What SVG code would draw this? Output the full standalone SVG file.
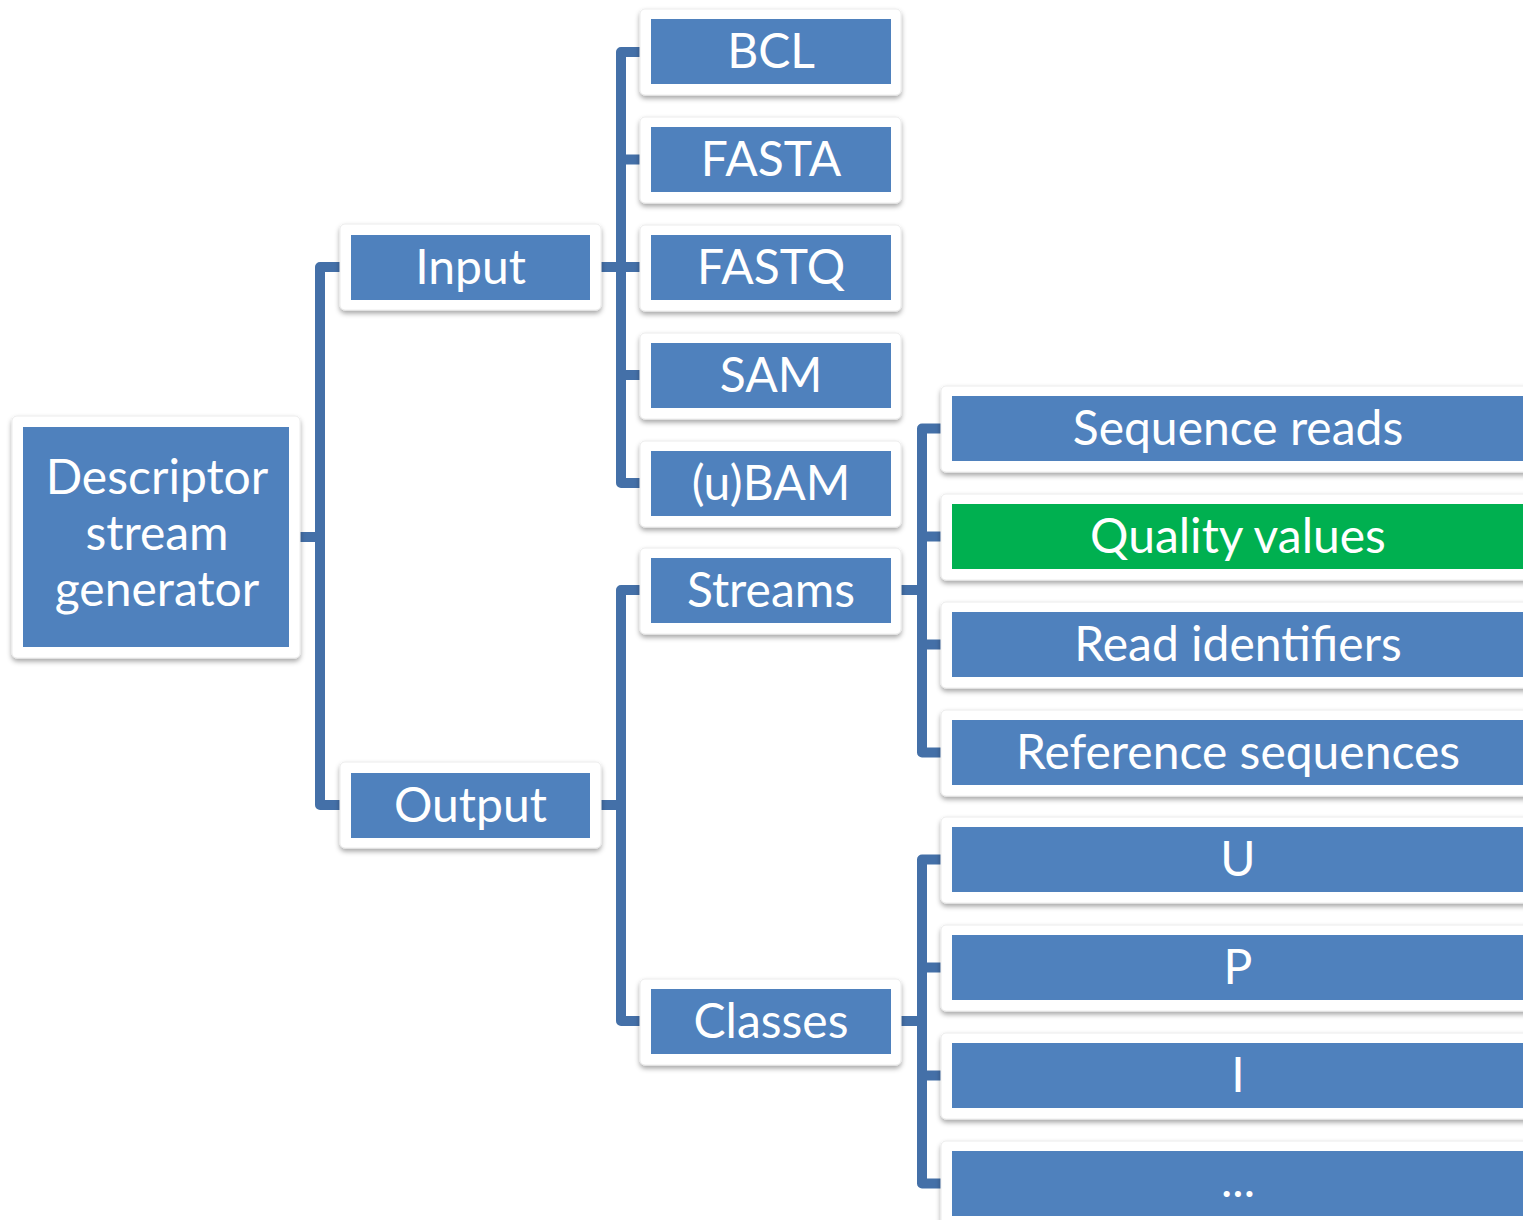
<svg xmlns="http://www.w3.org/2000/svg" width="1523" height="1220" viewBox="0 0 1523 1220">
<style>
.frame{fill:#fff;stroke:#ececec;stroke-width:1;filter:url(#sh)}
.box{fill:#4F81BD}
.green{fill:#00B050}
.lbl{font-family:Lato,"Liberation Sans",sans-serif;font-size:48px;fill:#fff;text-anchor:middle}
.con{fill:none;stroke:#4470A8;stroke-width:10;stroke-linejoin:round}
</style>
<defs>
<filter id="sh" x="-10%" y="-20%" width="120%" height="150%">
<feDropShadow dx="0" dy="3" stdDeviation="2.5" flood-color="#000" flood-opacity="0.35"/>
</filter>
</defs>
<rect width="1523" height="1220" fill="#fff"/>
<g id="connectors">
<path class="con" d="M345 267 H320 V805 H345 M296 537 H320"/>
<path class="con" d="M646 52 H621 V483 H646 M621 159.5 H646 M596 267 H646 M621 375 H646"/>
<path class="con" d="M646 590 H621 V1021 H646 M596 805 H621"/>
<path class="con" d="M946 428.5 H922 V752.5 H946 M922 536.5 H946 M922 644.5 H946 M896 590 H922"/>
<path class="con" d="M946 859.5 H922 V1183.5 H946 M922 967.5 H946 M922 1075.5 H946 M896 1021 H922"/>
</g>
<g id="descriptor">
<rect class="frame" x="12" y="416" width="288" height="242" rx="5"/>
<rect class="box" x="23" y="427" width="266" height="220"/>
<text class="lbl" x="157" y="494">Descriptor</text>
<text class="lbl" x="157" y="550">stream</text>
<text class="lbl" x="157" y="606">generator</text>
</g>
<g id="input">
<rect class="frame" x="340" y="224" width="261" height="86" rx="5"/>
<rect class="box" x="351" y="235" width="239" height="65"/>
<text class="lbl" x="470.5" y="284">Input</text>
</g>
<g id="output">
<rect class="frame" x="340" y="762" width="261" height="86" rx="5"/>
<rect class="box" x="351" y="773" width="239" height="65"/>
<text class="lbl" x="470.5" y="822">Output</text>
</g>
<g id="bcl">
<rect class="frame" x="640" y="9" width="261" height="86" rx="5"/>
<rect class="box" x="651" y="19" width="240" height="65"/>
<text class="lbl" x="771" y="68">BCL</text>
</g>
<g id="fasta">
<rect class="frame" x="640" y="117" width="261" height="86" rx="5"/>
<rect class="box" x="651" y="127" width="240" height="65"/>
<text class="lbl" x="771" y="176">FASTA</text>
</g>
<g id="fastq">
<rect class="frame" x="640" y="225" width="261" height="86" rx="5"/>
<rect class="box" x="651" y="235" width="240" height="65"/>
<text class="lbl" x="771" y="284">FASTQ</text>
</g>
<g id="sam">
<rect class="frame" x="640" y="333" width="261" height="86" rx="5"/>
<rect class="box" x="651" y="343" width="240" height="65"/>
<text class="lbl" x="771" y="392">SAM</text>
</g>
<g id="ubam">
<rect class="frame" x="640" y="441" width="261" height="86" rx="5"/>
<rect class="box" x="651" y="451" width="240" height="65"/>
<text class="lbl" x="771" y="500">(u)BAM</text>
</g>
<g id="streams">
<rect class="frame" x="640" y="548" width="261" height="86" rx="5"/>
<rect class="box" x="651" y="558" width="240" height="65"/>
<text class="lbl" x="771" y="607">Streams</text>
</g>
<g id="classes">
<rect class="frame" x="640" y="979" width="261" height="86" rx="5"/>
<rect class="box" x="651" y="989" width="240" height="65"/>
<text class="lbl" x="771" y="1038">Classes</text>
</g>
<g id="seqreads">
<rect class="frame" x="941" y="386" width="600" height="86" rx="5"/>
<rect class="box" x="952" y="396" width="590" height="65"/>
<text class="lbl" x="1238" y="445">Sequence reads</text>
</g>
<g id="quality">
<rect class="frame" x="941" y="494" width="600" height="86" rx="5"/>
<rect class="green" x="952" y="504" width="590" height="65"/>
<text class="lbl" x="1238" y="553">Quality values</text>
</g>
<g id="readids">
<rect class="frame" x="941" y="602" width="600" height="86" rx="5"/>
<rect class="box" x="952" y="612" width="590" height="65"/>
<text class="lbl" x="1238" y="661">Read identifiers</text>
</g>
<g id="refseq">
<rect class="frame" x="941" y="710" width="600" height="86" rx="5"/>
<rect class="box" x="952" y="720" width="590" height="65"/>
<text class="lbl" x="1238" y="769">Reference sequences</text>
</g>
<g id="u">
<rect class="frame" x="941" y="817" width="600" height="86" rx="5"/>
<rect class="box" x="952" y="827" width="590" height="65"/>
<text class="lbl" x="1238" y="876">U</text>
</g>
<g id="p">
<rect class="frame" x="941" y="925" width="600" height="86" rx="5"/>
<rect class="box" x="952" y="935" width="590" height="65"/>
<text class="lbl" x="1238" y="984">P</text>
</g>
<g id="i">
<rect class="frame" x="941" y="1033" width="600" height="86" rx="5"/>
<rect class="box" x="952" y="1043" width="590" height="65"/>
<text class="lbl" x="1238" y="1092">I</text>
</g>
<g id="more">
<rect class="frame" x="941" y="1141" width="600" height="86" rx="5"/>
<rect class="box" x="952" y="1151" width="590" height="65"/>
<text class="lbl" x="1238" y="1197">...</text>
</g>
</svg>
